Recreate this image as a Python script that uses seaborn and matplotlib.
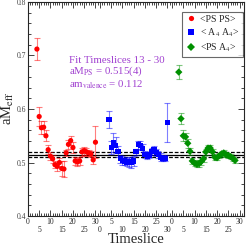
import numpy as np
import pandas as pd
import seaborn as sns
import matplotlib
matplotlib.use("Agg")
import matplotlib.pyplot as plt
from matplotlib.ticker import MultipleLocator

# effective mass per timeslice, three correlators
ps_ps_t = list(range(4, 31))
ps_ps = [0.712, 0.586, 0.565, 0.566, 0.550, 0.524, 0.512, 0.507, 0.496, 0.493,
         0.500, 0.489, 0.488, 0.518, 0.534, 0.541, 0.528, 0.503, 0.501, 0.503,
         0.520, 0.522, 0.520, 0.518, 0.516, 0.505, 0.538]
ps_ps_err = [0.020, 0.018, 0.012, 0.012, 0.010, 0.008, 0.007, 0.007, 0.007, 0.008,
             0.008, 0.014, 0.015, 0.006, 0.008, 0.009, 0.010, 0.007, 0.007, 0.007,
             0.008, 0.007, 0.007, 0.006, 0.006, 0.007, 0.030]

a4_a4_t = list(range(4, 31))
a4_a4 = [0.581, 0.528, 0.537, 0.532, 0.520, 0.507, 0.504, 0.503, 0.501, 0.501,
         0.500, 0.503, 0.520, 0.533, 0.532, 0.527, 0.515, 0.512, 0.514, 0.521,
         0.524, 0.519, 0.515, 0.510, 0.508, 0.508, 0.575]
a4_a4_err = [0.016, 0.012, 0.018, 0.015, 0.010, 0.008, 0.008, 0.008, 0.008, 0.009,
             0.010, 0.010, 0.006, 0.008, 0.008, 0.008, 0.007, 0.006, 0.006, 0.006,
             0.007, 0.007, 0.007, 0.007, 0.006, 0.006, 0.036]

ps_a4_t = list(range(3, 29))
ps_a4 = [0.669, 0.582, 0.550, 0.548, 0.536, 0.521, 0.503, 0.499, 0.497, 0.498,
         0.502, 0.507, 0.520, 0.527, 0.527, 0.520, 0.510, 0.509, 0.513, 0.516,
         0.518, 0.515, 0.513, 0.511, 0.508, 0.504]
ps_a4_err = [0.013, 0.010, 0.010, 0.008, 0.008, 0.006, 0.006, 0.006, 0.006, 0.006,
             0.006, 0.006, 0.006, 0.006, 0.006, 0.006, 0.005, 0.005, 0.005, 0.005,
             0.005, 0.005, 0.005, 0.005, 0.005, 0.005]

labels = ["<PS PS>", r"< A$_4$ A$_4$>", r"<PS A$_4$>"]
fit_mass = 0.515
fit_err = 0.004
tick_slices = [0, 5, 10, 15, 20, 25, 30]

offset = 32  # each correlator shifted along the x axis
colors = ["#ff0000", "#0000ff", "#009000"]
markers = ["o", "s", "D"]

frames = []
for i, (t, m, e) in enumerate([(ps_ps_t, ps_ps, ps_ps_err),
                               (a4_a4_t, a4_a4, a4_a4_err),
                               (ps_a4_t, ps_a4, ps_a4_err)]):
    frames.append(pd.DataFrame({"x": np.array(t) + i * offset, "m": m, "err": e,
                                "corr": labels[i]}))
df = pd.concat(frames, ignore_index=True)

sns.set_style("ticks")
plt.rcParams["font.family"] = ["Liberation Serif", "DejaVu Serif"]
plt.rcParams["mathtext.fontset"] = "stix"

fig = plt.figure(figsize=(2.47, 2.45), dpi=100)
ax = fig.add_axes([0.113, 0.118, 0.875, 0.874])

for i, lab in enumerate(labels):
    sub = df[df["corr"] == lab]
    ax.errorbar(sub["x"], sub["m"], yerr=sub["err"], fmt="none", ecolor=colors[i],
                alpha=0.5, elinewidth=0.8, capsize=2, capthick=0.8, zorder=2)

sns.scatterplot(data=df, x="x", y="m", hue="corr", style="corr",
                palette=dict(zip(labels, colors)), markers=dict(zip(labels, markers)),
                s=14, linewidth=0, ax=ax, zorder=3)

ax.axhline(fit_mass, color="black", lw=0.9, zorder=1)
ax.axhline(fit_mass - fit_err, color="black", lw=0.9, ls="--", dashes=(3, 1.5), zorder=1)
ax.axhline(fit_mass + fit_err, color="black", lw=0.9, ls="--", dashes=(3, 1.5), zorder=1)

ax.set_xlim(0, 96)
ax.set_ylim(0.4, 0.8)

pos = []
txt = []
for i in range(3):
    for t in tick_slices:
        pos.append(t + i * offset)
        txt.append(str(t))
txt = [s if k % 2 == 0 else "\n" + s for k, s in enumerate(txt)]
ax.set_xticks(pos)
ax.set_xticklabels(txt, fontsize=5.5, linespacing=1.0)
ax.xaxis.set_minor_locator(MultipleLocator(1))
ax.set_yticks([0.4, 0.5, 0.6, 0.7, 0.8])
ax.yaxis.set_minor_locator(MultipleLocator(0.02))
ax.set_yticklabels(["0.4", "0.5", "0.6", "0.7", "0.8"], fontsize=5.5, color="#444444")
ax.tick_params(which="both", direction="in", top=True, right=True, width=0.6)
ax.tick_params(which="major", length=4, pad=1.2)
ax.tick_params(which="minor", length=2)
for sp in ax.spines.values():
    sp.set_linewidth(0.8)

ax.set_xlabel("")
ax.set_ylabel("")
fig.text(136 / 247, 1 - 239 / 245, "Timeslice", fontsize=10.5, ha="center", va="center")
fig.text(8 / 247, 1 - 108 / 245, r"aM$_{\mathrm{eff}}$", fontsize=10.5,
         rotation=90, ha="center", va="center")

purple = "#a040d0"
ax.text(0.19, 0.713, "Fit Timeslices 13 - 30", transform=ax.transAxes,
        fontsize=7.8, color=purple)
ax.text(0.19, 0.664, r"aM$_{\mathrm{PS}}$ = 0.515(4)", transform=ax.transAxes,
        fontsize=7.8, color=purple)
ax.text(0.19, 0.601, r"am$_{\mathrm{valence}}$ = 0.112", transform=ax.transAxes,
        fontsize=7.8, color=purple)

leg = ax.legend(loc="upper right", fontsize=7, frameon=True, fancybox=False,
                handletextpad=0.3, borderpad=0.3, labelspacing=0.3,
                handlelength=1.3, markerscale=1.0, bbox_to_anchor=(0.995, 0.955),
                borderaxespad=0)
leg.get_frame().set_edgecolor("#444444")
leg.get_frame().set_linewidth(0.8)
leg.set_title(None)

fig.savefig("out.png", dpi=100)
